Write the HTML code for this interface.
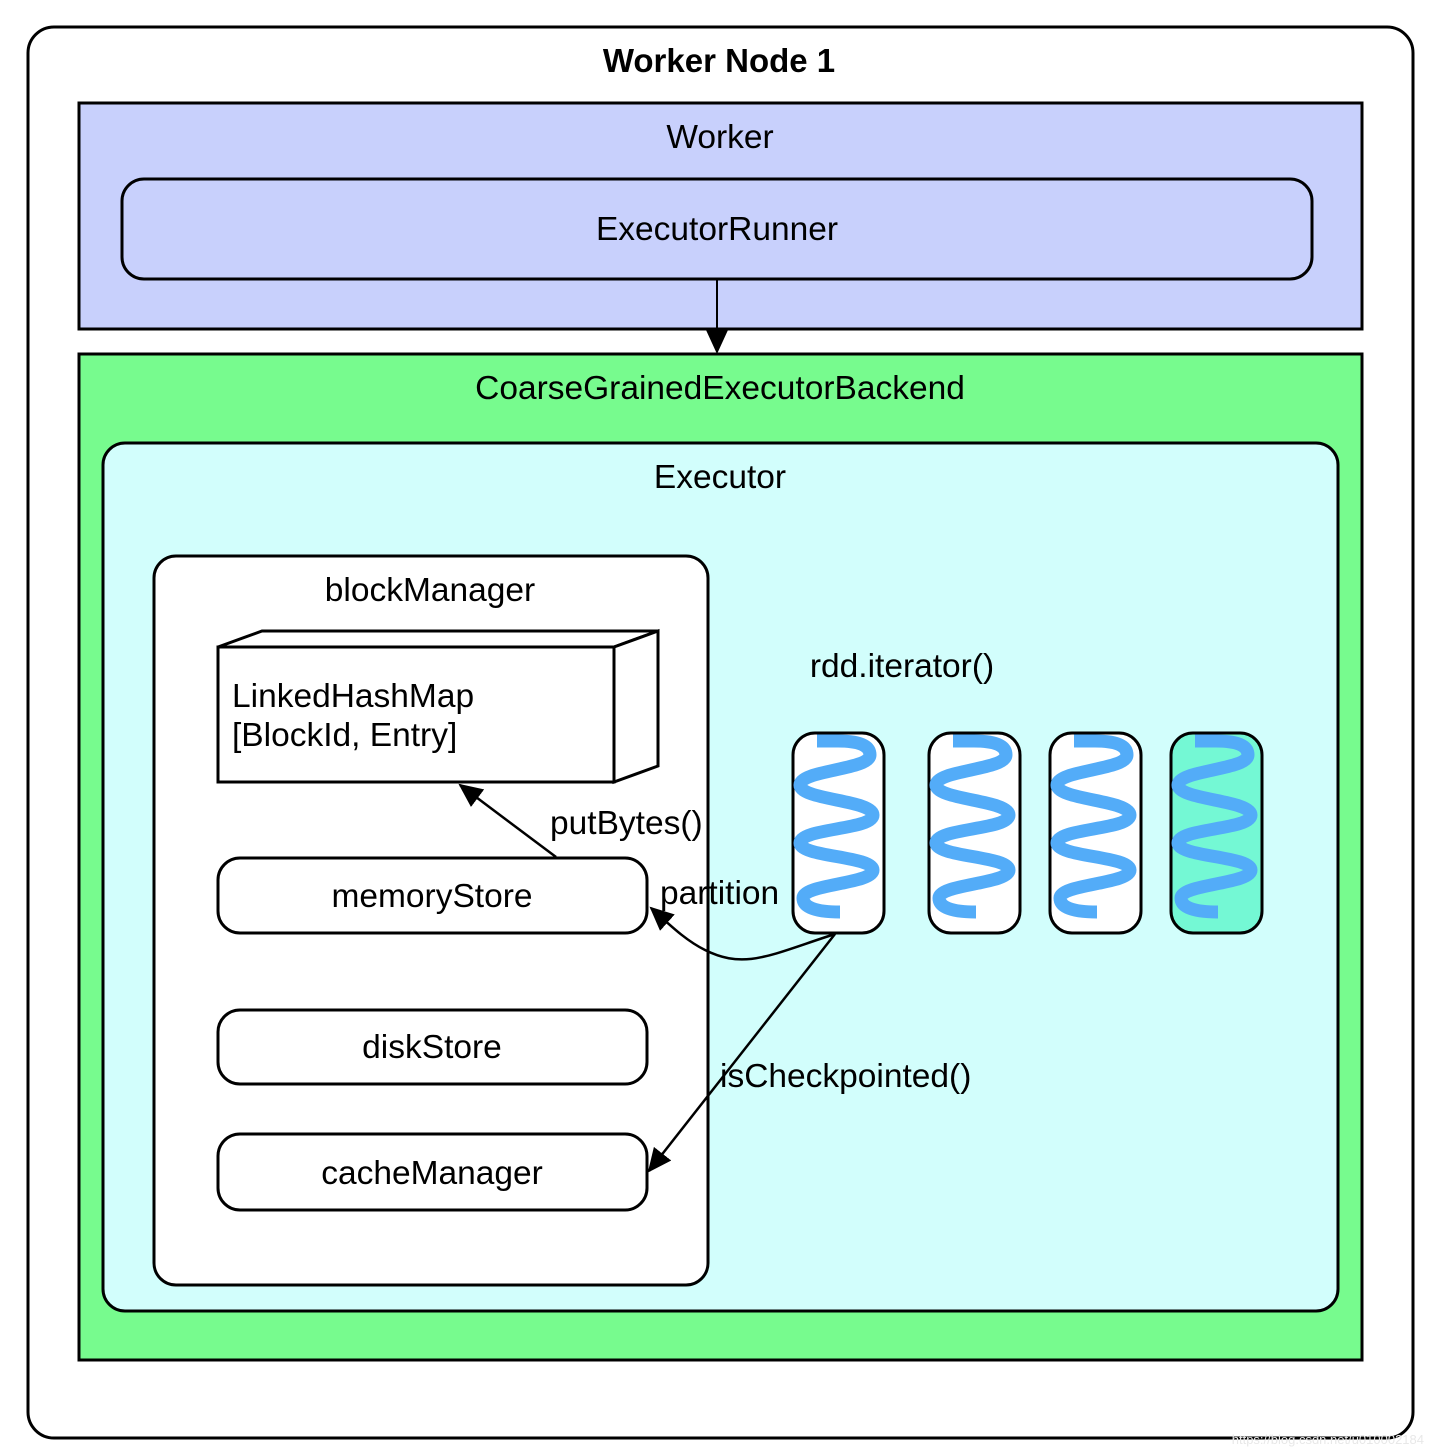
<!DOCTYPE html>
<html><head><meta charset="utf-8"><style>html,body{margin:0;padding:0;background:#fff}svg{display:block}text{font-family:"Liberation Sans",sans-serif;fill:#000}</style></head><body>
<svg width="1434" height="1456" viewBox="0 0 1434 1456" xmlns="http://www.w3.org/2000/svg">
<defs>
<marker id="ah2" markerWidth="24" markerHeight="22" refX="22" refY="11" orient="auto" markerUnits="userSpaceOnUse"><path d="M0,0 L24,11 L0,22 z" fill="#000"/></marker>
<g id="wave"><path d="M817,741 H838 C858,741 870,745 870,755 C870,770 800,770 800,785 C800,800 873,800 873,815 C873,830 800,828 800,843 C800,857 873,856 873,870 C873,884 803,884 803,898 C803,907 815,912 840,912" fill="none" stroke="#53acf8" stroke-width="13"/></g>
</defs>
<rect x="28" y="27" width="1385" height="1411" rx="26" fill="#fff" stroke="#000" stroke-width="3"/>
<text x="719" y="72" font-size="33" font-weight="bold" text-anchor="middle">Worker Node 1</text>
<rect x="79" y="103" width="1283" height="226" fill="#c8d0fc" stroke="#000" stroke-width="3"/>
<text x="720" y="148" font-size="33.5" text-anchor="middle">Worker</text>
<rect x="122" y="179" width="1190" height="100" rx="22" fill="#c8d0fc" stroke="#000" stroke-width="3"/>
<text x="717" y="240" font-size="33.5" text-anchor="middle">ExecutorRunner</text>
<rect x="79" y="354" width="1283" height="1006" fill="#77fb8e" stroke="#000" stroke-width="3"/>
<line x1="717" y1="279" x2="717" y2="352" stroke="#000" stroke-width="2" marker-end="url(#ah2)"/>
<text x="720" y="399" font-size="33.5" text-anchor="middle">CoarseGrainedExecutorBackend</text>
<rect x="103" y="443" width="1235" height="868" rx="22" fill="#d2fefc" stroke="#000" stroke-width="3"/>
<text x="720" y="488" font-size="33.5" text-anchor="middle">Executor</text>
<rect x="154" y="556" width="554" height="729" rx="22" fill="#fff" stroke="#000" stroke-width="3"/>
<text x="430" y="601" font-size="33.5" text-anchor="middle">blockManager</text>
<polygon points="218,647 262,631 658,631 614,647" fill="#fff" stroke="#000" stroke-width="3"/>
<polygon points="614,647 658,631 658,766 614,782" fill="#fff" stroke="#000" stroke-width="3"/>
<rect x="218" y="647" width="396" height="135" fill="#fff" stroke="#000" stroke-width="3"/>
<text x="232" y="707" font-size="33.5">LinkedHashMap</text>
<text x="232" y="746" font-size="33.5">[BlockId, Entry]</text>
<rect x="218" y="858" width="429" height="75" rx="22" fill="#fff" stroke="#000" stroke-width="3"/>
<text x="432" y="907" font-size="33.5" text-anchor="middle">memoryStore</text>
<rect x="218" y="1010" width="429" height="74" rx="22" fill="#fff" stroke="#000" stroke-width="3"/>
<text x="432" y="1058" font-size="33.5" text-anchor="middle">diskStore</text>
<rect x="218" y="1134" width="429" height="76" rx="22" fill="#fff" stroke="#000" stroke-width="3"/>
<text x="432" y="1184" font-size="33.5" text-anchor="middle">cacheManager</text>
<text x="902" y="677" font-size="33.5" text-anchor="middle">rdd.iterator()</text>
<rect x="793" y="733" width="91" height="200" rx="22" fill="#fff" stroke="#000" stroke-width="3"/>
<rect x="929" y="733" width="91" height="200" rx="22" fill="#fff" stroke="#000" stroke-width="3"/>
<rect x="1050" y="733" width="91" height="200" rx="22" fill="#fff" stroke="#000" stroke-width="3"/>
<rect x="1171" y="733" width="91" height="200" rx="22" fill="#74f8d4" stroke="#000" stroke-width="3"/>
<use href="#wave"/>
<use href="#wave" transform="translate(136,0)"/>
<use href="#wave" transform="translate(257,0)"/>
<use href="#wave" transform="translate(378,0)"/>
<line x1="556" y1="857" x2="460" y2="785" stroke="#000" stroke-width="2.5" marker-end="url(#ah2)"/>
<text x="550" y="834" font-size="33.5">putBytes()</text>
<path d="M835,934 C770,955 745,970 705,950 C685,940 670,925 651,908" fill="none" stroke="#000" stroke-width="2.5" marker-end="url(#ah2)"/>
<text x="660" y="904" font-size="33.5">partition</text>
<line x1="835" y1="934" x2="649" y2="1171" stroke="#000" stroke-width="2.5" marker-end="url(#ah2)"/>
<text x="720" y="1087" font-size="33.5">isCheckpointed()</text>
<text x="1424" y="1444" font-size="13" text-anchor="end" style="fill:#e8e8e8">https://blog.csdn.net/u010002184</text>
</svg>
</body></html>
